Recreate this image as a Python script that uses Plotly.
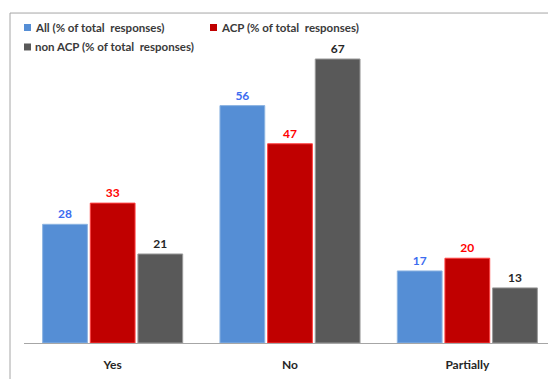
import plotly.graph_objects as go

categories = ["Yes", "No", "Partially"]
all_values = [28, 56, 17]
acp_values = [33, 47, 20]
non_acp_values = [21, 67, 13]

series_names = [
    "All (% of total\u00a0 responses)",
    "ACP (% of total\u00a0 responses)",
    "non ACP (% of total\u00a0 responses)",
]

BLUE = "#558ED5"
RED = "#C00000"
GRAY = "#595959"
FONT = "Lato, Liberation Sans, sans-serif"

# the page body adds an 8px margin, so figure coords = screen coords - 8
OFF = 8
W, H = 556 - OFF, 379 - OFF
L, R, T, B = 24 - OFF, 0, 40 - OFF, 379 - 343.5
plot_w = W - L - R
plot_h = H - T - B
PX_PER_UNIT = 4.246


def px_x(px):
    return (px - OFF - L) / plot_w


def px_y(py):
    return (H - B - (py - OFF)) / plot_h


fig = go.Figure()
specs = [
    (all_values, series_names[0], BLUE, "#8DB4E2", "#3C6CF0"),
    (acp_values, series_names[1], RED, "#FF4040", "#FF0000"),
    (non_acp_values, series_names[2], GRAY, "#9A9A9A", "#262626"),
]
for values, name, color, edge, label_color in specs:
    fig.add_trace(
        go.Bar(
            x=categories,
            y=values,
            name=name,
            marker=dict(color=color, line=dict(color=edge, width=1)),
            text=[str(v) for v in values],
            textposition="outside",
            textfont=dict(family=FONT, size=12, color=label_color, weight="bold"),
            cliponaxis=False,
            showlegend=False,
        )
    )

# legend drawn by hand: small squares + text, as in the original
legend_items = [
    (series_names[0], BLUE, 24, 27.5),
    (series_names[1], RED, 210, 27.5),
    (series_names[2], GRAY, 24, 47),
]
shapes = [
    dict(type="line", xref="paper", yref="paper",
         x0=px_x(10), x1=px_x(600), y0=px_y(13), y1=px_y(13),
         line=dict(color="#A6A6A6", width=1)),
    dict(type="line", xref="paper", yref="paper",
         x0=px_x(10), x1=px_x(10), y0=px_y(13), y1=px_y(420),
         line=dict(color="#A6A6A6", width=1)),
]
annotations = []
for name, color, sx, cy in legend_items:
    shapes.append(
        dict(type="rect", xref="paper", yref="paper",
             x0=px_x(sx), x1=px_x(sx + 7), y0=px_y(cy - 3.5), y1=px_y(cy + 3.5),
             fillcolor=color, line=dict(width=0))
    )
    annotations.append(
        dict(text=name, xref="paper", yref="paper", x=px_x(sx + 9), y=px_y(cy),
             xanchor="left", yanchor="middle", showarrow=False,
             font=dict(family=FONT, size=11.5, color="#3A3A3A", weight="bold"))
    )

fig.update_layout(
    width=W,
    height=H,
    margin=dict(l=L, r=R, t=T, b=B),
    paper_bgcolor="white",
    plot_bgcolor="white",
    barmode="group",
    bargap=0.194,
    bargroupgap=0.06,
    showlegend=False,
    xaxis=dict(
        range=[-0.5, 2.5],
        showline=True,
        linecolor="#A6A6A6",
        linewidth=1,
        showgrid=False,
        ticks="",
        tickfont=dict(family=FONT, size=12, color="#262626", weight="bold"),
        ticklabelstandoff=11,
    ),
    yaxis=dict(range=[0, plot_h / PX_PER_UNIT], visible=False, showgrid=False),
    shapes=shapes,
    annotations=annotations,
)

fig.write_html("out.html")
